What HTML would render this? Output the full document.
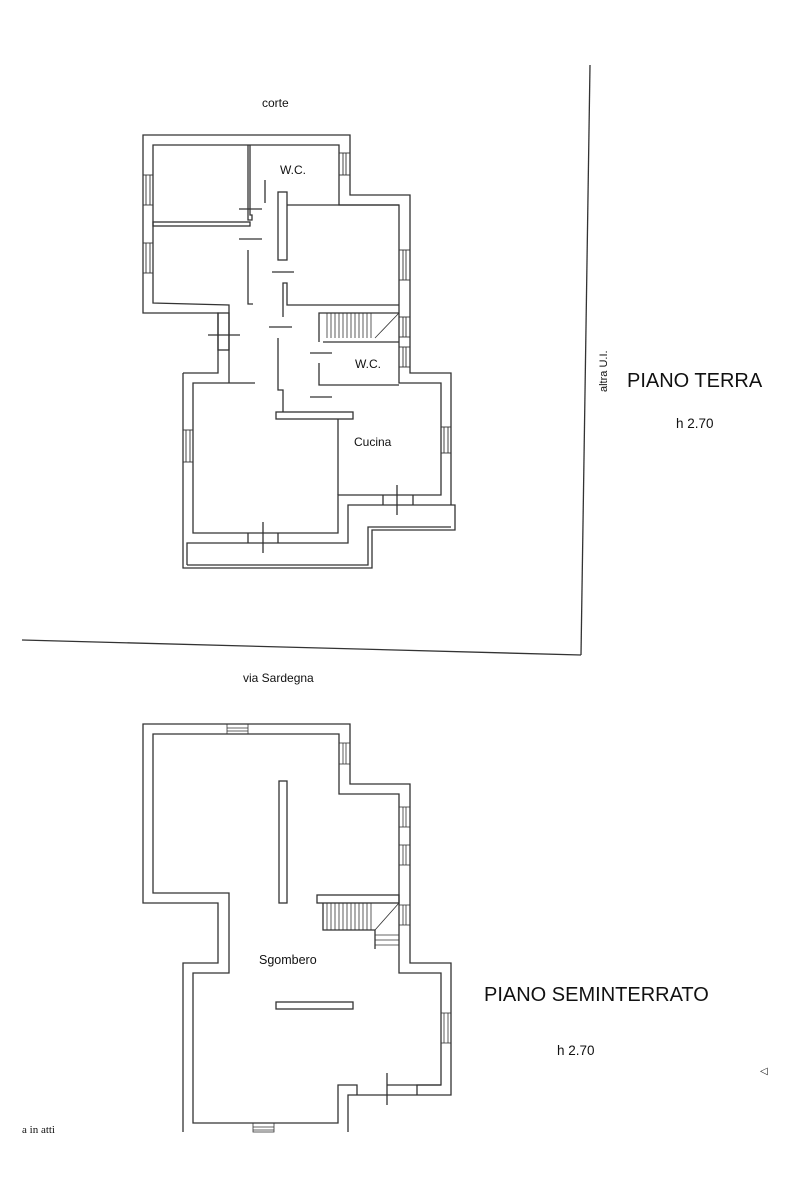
<!DOCTYPE html>
<html><head><style>
html,body{margin:0;padding:0;background:#fff;}
svg{display:block;}
text{font-family:"Liberation Sans",sans-serif;fill:#111;}
</style></head><body>
<svg width="799" height="1198" viewBox="0 0 799 1198" xmlns="http://www.w3.org/2000/svg">
<g fill="none" stroke="#333" stroke-width="1.3">
<line x1="590" y1="65" x2="581" y2="655"/>
<line x1="22" y1="640" x2="581" y2="655"/>

<polyline points="183,373 218,373 218,313 143,313 143,135 350,135 350,195 410,195 410,373 451,373 451,505"/>
<polyline points="183,373 183,568 372,568 372,530 455,530 455,505 348,505 348,543 187,543 187,565"/>
<polyline points="187,565 368,565 368,527 451,527"/>
<polyline points="229,383 229,305 153,303 153,145 339,145 339,205 399,205 399,383 441,383 441,495 338,495 338,533 193,533 193,383 229,383"/>
<polyline points="248,145 248,220 252,220 252,215 250,215 250,145"/>
<rect x="153" y="222" width="97" height="4"/>
<polyline points="248,250 248,304 253,304"/>
<rect x="278" y="192" width="9" height="68"/>
<polyline points="283,317 283,283 287,283 287,305 399,305"/>
<line x1="287" y1="205" x2="399" y2="205"/>
<polyline points="319,342 319,313 399,313"/>
<line x1="323" y1="342" x2="399" y2="342"/>
<g stroke-width="0.8">
<line x1="327" y1="313" x2="327" y2="338"/><line x1="331" y1="313" x2="331" y2="338"/><line x1="335" y1="313" x2="335" y2="338"/><line x1="339" y1="313" x2="339" y2="338"/><line x1="343" y1="313" x2="343" y2="338"/><line x1="347" y1="313" x2="347" y2="338"/><line x1="351" y1="313" x2="351" y2="338"/><line x1="355" y1="313" x2="355" y2="338"/><line x1="359" y1="313" x2="359" y2="338"/><line x1="363" y1="313" x2="363" y2="338"/><line x1="367" y1="313" x2="367" y2="338"/><line x1="371" y1="313" x2="371" y2="338"/>
<line x1="375" y1="338" x2="399" y2="313"/>
</g>
<polyline points="319,363 319,385 399,385"/>
<polyline points="278,338 278,390 283,390 283,412"/>
<rect x="276" y="412" width="77" height="7"/>
<line x1="338" y1="419" x2="338" y2="495"/>
<line x1="229" y1="383" x2="255" y2="383"/>
<line x1="239" y1="209" x2="262" y2="209"/>
<line x1="239" y1="239" x2="262" y2="239"/>
<line x1="272" y1="272" x2="294" y2="272"/>
<line x1="269" y1="327" x2="292" y2="327"/>
<line x1="310" y1="353" x2="332" y2="353"/>
<line x1="310" y1="397" x2="332" y2="397"/>
<line x1="265" y1="180" x2="265" y2="203"/>
<g stroke-width="0.9">
<rect x="143" y="175" width="10" height="30"/><line x1="146" y1="175" x2="146" y2="205"/><line x1="150" y1="175" x2="150" y2="205"/>
<rect x="143" y="243" width="10" height="30"/><line x1="146" y1="243" x2="146" y2="273"/><line x1="150" y1="243" x2="150" y2="273"/>
<rect x="339" y="153" width="11" height="22"/><line x1="343" y1="153" x2="343" y2="175"/><line x1="346" y1="153" x2="346" y2="175"/>
<rect x="399" y="250" width="11" height="30"/><line x1="403" y1="250" x2="403" y2="280"/><line x1="406" y1="250" x2="406" y2="280"/>
<rect x="399" y="317" width="11" height="20"/><line x1="403" y1="317" x2="403" y2="337"/><line x1="406" y1="317" x2="406" y2="337"/>
<rect x="399" y="347" width="11" height="20"/><line x1="403" y1="347" x2="403" y2="367"/><line x1="406" y1="347" x2="406" y2="367"/>
<rect x="441" y="427" width="10" height="26"/><line x1="444" y1="427" x2="444" y2="453"/><line x1="448" y1="427" x2="448" y2="453"/>
<rect x="183" y="430" width="10" height="32"/><line x1="186" y1="430" x2="186" y2="462"/><line x1="190" y1="430" x2="190" y2="462"/>
</g>
<rect x="218" y="313" width="11" height="37"/>
<line x1="208" y1="335" x2="240" y2="335"/>
<line x1="248" y1="533" x2="248" y2="543"/><line x1="278" y1="533" x2="278" y2="543"/>
<line x1="263" y1="522" x2="263" y2="553"/>
<line x1="383" y1="495" x2="383" y2="505"/><line x1="413" y1="495" x2="413" y2="505"/>
<line x1="397" y1="485" x2="397" y2="515"/>

<polyline points="183,1132 183,963 218,963 218,903 143,903 143,724 350,724 350,784 410,784 410,963 451,963 451,1095 348,1095 348,1132"/>
<polyline points="387,1085 441,1085 441,973 399,973 399,794 339,794 339,734 153,734 153,893 229,893 229,973 193,973 193,1123 338,1123 338,1085 357,1085 357,1095"/>
<polyline points="417,1095 417,1085 441,1085"/>
<line x1="387" y1="1073" x2="387" y2="1105"/>
<rect x="279" y="781" width="8" height="122"/>
<rect x="276" y="1002" width="77" height="7"/>
<rect x="317" y="895" width="82" height="8"/>
<polyline points="323,903 323,930 375,930 375,949"/>
<g stroke-width="0.8">
<line x1="327" y1="903" x2="327" y2="930"/><line x1="331" y1="903" x2="331" y2="930"/><line x1="335" y1="903" x2="335" y2="930"/><line x1="339" y1="903" x2="339" y2="930"/><line x1="343" y1="903" x2="343" y2="930"/><line x1="347" y1="903" x2="347" y2="930"/><line x1="351" y1="903" x2="351" y2="930"/><line x1="355" y1="903" x2="355" y2="930"/><line x1="359" y1="903" x2="359" y2="930"/><line x1="363" y1="903" x2="363" y2="930"/><line x1="367" y1="903" x2="367" y2="930"/><line x1="371" y1="903" x2="371" y2="930"/>
<line x1="375" y1="935" x2="399" y2="935"/><line x1="375" y1="940" x2="399" y2="940"/><line x1="375" y1="945" x2="399" y2="945"/>
<line x1="375" y1="930" x2="399" y2="903"/>
<rect x="227" y="724" width="21" height="10"/><line x1="227" y1="728" x2="248" y2="728"/><line x1="227" y1="731" x2="248" y2="731"/>
<rect x="339" y="743" width="11" height="21"/><line x1="343" y1="743" x2="343" y2="764"/><line x1="346" y1="743" x2="346" y2="764"/>
<rect x="399" y="807" width="11" height="20"/><line x1="403" y1="807" x2="403" y2="827"/><line x1="406" y1="807" x2="406" y2="827"/>
<rect x="399" y="845" width="11" height="20"/><line x1="403" y1="845" x2="403" y2="865"/><line x1="406" y1="845" x2="406" y2="865"/>
<rect x="399" y="905" width="11" height="20"/><line x1="403" y1="905" x2="403" y2="925"/><line x1="406" y1="905" x2="406" y2="925"/>
<rect x="441" y="1013" width="10" height="30"/><line x1="444" y1="1013" x2="444" y2="1043"/><line x1="448" y1="1013" x2="448" y2="1043"/>
<rect x="253" y="1123" width="21" height="9"/><line x1="253" y1="1127" x2="274" y2="1127"/><line x1="253" y1="1130" x2="274" y2="1130"/>
</g>
</g>
<text x="262" y="107" font-size="12">corte</text>
<text x="280" y="174" font-size="12">W.C.</text>
<text x="355" y="368" font-size="12">W.C.</text>
<text x="354" y="446" font-size="12">Cucina</text>
<text x="607" y="392" font-size="11" transform="rotate(-90 607 392)">altra U.I.</text>
<text x="627" y="387" font-size="20">PIANO TERRA</text>
<text x="676" y="428" font-size="13.5">h 2.70</text>
<text x="243" y="682" font-size="12">via Sardegna</text>
<text x="259" y="964" font-size="12.5">Sgombero</text>
<text x="484" y="1001" font-size="20">PIANO SEMINTERRATO</text>
<text x="557" y="1055" font-size="13.5">h 2.70</text>
<text x="22" y="1133" font-size="11" style="font-family:'Liberation Serif',serif">a in atti</text>
<text x="760" y="1074" font-size="10">◁</text>
</svg>
</body></html>
